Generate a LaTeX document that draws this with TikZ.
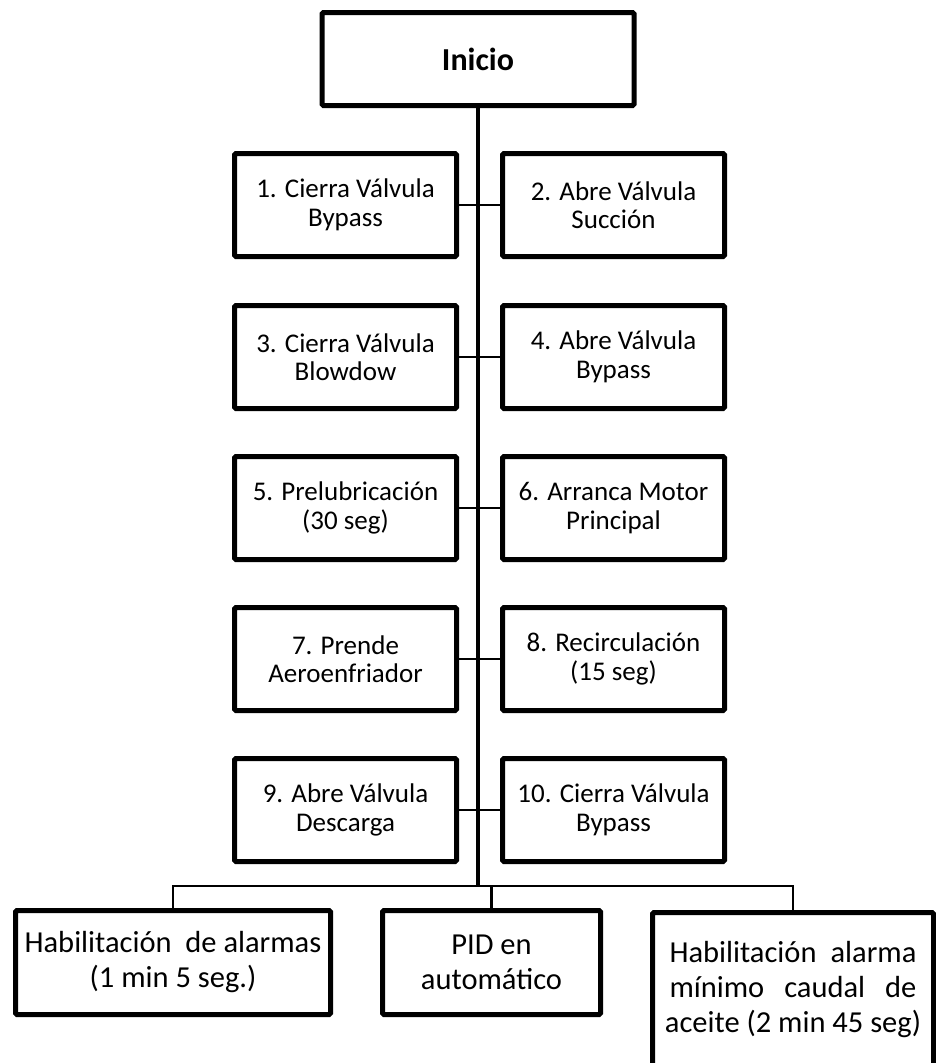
\documentclass[tikz,border=0pt]{standalone}
\usepackage{fontspec}
\setmainfont{Carlito}
\usetikzlibrary{shadows}
\begin{document}
\begin{tikzpicture}[x=1pt,y=-1pt,
  box/.style={draw=black, line width=5pt, fill=white, rounded corners=1.5pt,
    align=center, inner sep=0pt,
    drop shadow={opacity=0.22, shadow xshift=1.5pt, shadow yshift=-2pt}},
  startbox/.style={box, minimum width=312pt, minimum height=93pt,
    font=\fontsize{32}{34}\selectfont\bfseries},
  stepbox/.style={box, minimum width=222pt, minimum height=103pt,
    font=\fontsize{27}{28.5}\selectfont},
  endbox/.style={box, minimum height=104pt,
    font=\fontsize{30.5}{35}\selectfont},
  trunk/.style={line width=4.5pt},
  branch/.style={line width=2.2pt}
]
\useasboundingbox (0,0) rectangle (936,1063);
\clip (0,0) rectangle (936,1063);

% central trunk and bus coordinate
\coordinate (bus) at (478,886);

\node[startbox] (inicio) at (478,59) {Inicio};
\draw[trunk] (inicio.south) -- (bus);

% sequence steps, two per row
\node[stepbox] (s1)  at (345.5,205) {1. Cierra Válvula\\Bypass};
\node[stepbox] (s2)  at (613.5,205) {2. Abre Válvula\\Succión};
\node[stepbox] (s3)  at (345.5,357) {3. Cierra Válvula\\Blowdow};
\node[stepbox] (s4)  at (613.5,357) {4. Abre Válvula\\Bypass};
\node[stepbox] (s5)  at (345.5,508) {5. Prelubricación\\(30 seg)};
\node[stepbox] (s6)  at (613.5,508) {6. Arranca Motor\\Principal};
\node[stepbox] (s7)  at (345.5,659) {7. Prende\\Aeroenfriador};
\node[stepbox] (s8)  at (613.5,659) {8. Recirculación\\(15 seg)};
\node[stepbox] (s9)  at (345.5,810) {9. Abre Válvula\\Descarga};
\node[stepbox] (s10) at (613.5,810) {10. Cierra Válvula\\Bypass};

\foreach \a/\b in {s1/s2, s3/s4, s5/s6, s7/s8, s9/s10}
  \draw[branch] (\a.east) -- (\b.west);

% final actions
\node[endbox, minimum width=315pt] (alarmas) at (173,962.5)
  {Habilitación\ \ de alarmas\\(1 min 5 seg.)};
\node[endbox, minimum width=218pt] (pid) at (491.5,962.5)
  {PID en\\automático};
\node[endbox, minimum width=281pt, minimum height=155pt] (caudal) at (793,990)
  {\makebox[247pt][s]{Habilitación alarma}\\
   \makebox[247pt][s]{mínimo caudal de}\\
   aceite (2 min 45 seg)};

\draw[branch] (alarmas.north) |- (bus) -| (caudal.north);
\draw[branch] (pid.north) -- (pid.north |- bus);
\end{tikzpicture}
\end{document}
